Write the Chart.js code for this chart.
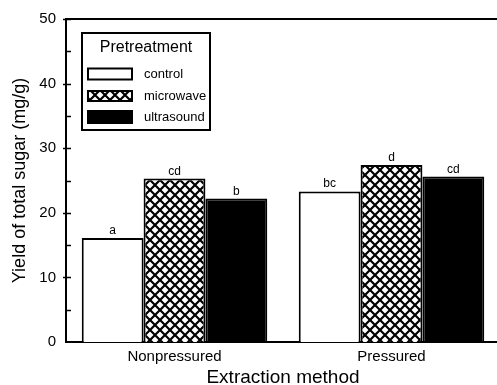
<!DOCTYPE html>
<html>
<head>
<meta charset="utf-8">
<script src="https://cdn.jsdelivr.net/npm/chart.js@4.4.0/dist/chart.umd.min.js"></script>
<style>
  html, body { margin: 0; padding: 0; background: #fff; overflow: hidden; }
  #contenedor { position: relative; width: 500px; height: 385px; }
</style>
</head>
<body>
<div id="contenedor"><canvas id="grafico-azucar"></canvas></div>
<script>
// datos
const categorias = ['Nonpressured', 'Pressured'];

const valores_control = [16.1, 23.3];
const valores_microondas = [25.3, 27.4];
const valores_ultrasonido = [22.2, 25.6];

// letras de significancia encima de cada barra
const letras_control = ['a', 'bc'];
const letras_microondas = ['cd', 'd'];
const letras_ultrasonido = ['b', 'cd'];

const nombres_series = ['control', 'microwave', 'ultrasound'];
const ticks_mayores = [0, 10, 20, 30, 40, 50];
const ticks_menores = [5, 15, 25, 35, 45];

const fuente = 'Arial, "Liberation Sans", Helvetica, sans-serif';

// patron de rombos (cuadriculado diagonal) para microwave
function crear_patron() {
    const lienzo = document.createElement('canvas');
    lienzo.width = 10;
    lienzo.height = 10;
    const c = lienzo.getContext('2d');
    c.fillStyle = '#fff';
    c.fillRect(0, 0, 10, 10);
    c.strokeStyle = '#000';
    c.lineWidth = 2.2;
    for (let d = -10; d <= 10; d += 10) {
        c.beginPath();
        c.moveTo(d, 0); c.lineTo(d + 10, 10);
        c.moveTo(d + 10, 0); c.lineTo(d, 10);
        c.stroke();
    }
    return c.createPattern(lienzo, 'repeat');
}
const patron_microondas = crear_patron();

const rellenos = ['#ffffff', patron_microondas, '#000000'];
const letras = [letras_control, letras_microondas, letras_ultrasonido];

// plugin: marco superior, marcas del eje y, letras y leyenda
const plugin_extras = {
    id: 'extras',
    afterDraw(chart) {
        const ctx = chart.ctx;
        const area = chart.chartArea;
        const escala_y = chart.scales.y;

        ctx.save();
        ctx.strokeStyle = '#000';
        ctx.lineWidth = 2;

        // linea superior del marco
        ctx.beginPath();
        ctx.moveTo(area.left - 1, area.top);
        ctx.lineTo(area.right + 2, area.top);
        ctx.stroke();

        // marcas mayores y menores del eje y
        ctx.lineWidth = 1.5;
        ticks_mayores.forEach(v => {
            if (v === 0) return;
            const y = Math.round(escala_y.getPixelForValue(v)) + 0.5;
            ctx.beginPath();
            ctx.moveTo(area.left - 3, y);
            ctx.lineTo(area.left + 5, y);
            ctx.stroke();
        });
        ticks_menores.forEach(v => {
            const y = Math.round(escala_y.getPixelForValue(v)) + 0.5;
            ctx.beginPath();
            ctx.moveTo(area.left, y);
            ctx.lineTo(area.left + 5, y);
            ctx.stroke();
        });

        // letras de significancia
        ctx.fillStyle = '#000';
        ctx.font = '12px ' + fuente;
        ctx.textAlign = 'center';
        ctx.textBaseline = 'alphabetic';
        chart.data.datasets.forEach((ds, i) => {
            const meta = chart.getDatasetMeta(i);
            meta.data.forEach((barra, j) => {
                ctx.fillText(letras[i][j], barra.x, barra.y - 4);
            });
        });

        // leyenda con titulo dentro de un recuadro
        const lx = 82, ly = 33, lw = 128, lh = 97;
        ctx.lineWidth = 2;
        ctx.fillStyle = '#fff';
        ctx.fillRect(lx, ly, lw, lh);
        ctx.strokeRect(lx, ly, lw, lh);

        ctx.fillStyle = '#000';
        ctx.font = '16px ' + fuente;
        ctx.textAlign = 'center';
        ctx.textBaseline = 'middle';
        ctx.fillText('Pretreatment', lx + lw / 2, 48);

        const filas_y = [74, 96, 117];
        const altos = [11, 10, 12];
        chart.data.datasets.forEach((ds, i) => {
            const cy = filas_y[i];
            const h = altos[i];
            ctx.fillStyle = ds.backgroundColor;
            ctx.fillRect(88, cy - h / 2, 44, h);
            ctx.lineWidth = 2;
            ctx.strokeStyle = '#000';
            ctx.strokeRect(88, cy - h / 2, 44, h);
            ctx.fillStyle = '#000';
            ctx.font = '13px ' + fuente;
            ctx.textAlign = 'left';
            ctx.fillText(ds.label, 144, cy);
        });
        ctx.restore();
    }
};

const contexto = document.getElementById('grafico-azucar').getContext('2d');

new Chart(contexto, {
    type: 'bar',
    data: {
        labels: categorias,
        datasets: [valores_control, valores_microondas, valores_ultrasonido].map((valores, i) => ({
            label: nombres_series[i],
            data: valores,
            backgroundColor: rellenos[i],
            borderColor: '#000',
            borderWidth: 2,
            borderSkipped: 'bottom',
            categoryPercentage: 0.855,
            barPercentage: 1.0
        }))
    },
    options: {
        responsive: true,
        maintainAspectRatio: false,
        animation: false,
        layout: { padding: { top: 19, right: 0, left: 0, bottom: 0 } },
        plugins: {
            legend: { display: false },
            tooltip: { enabled: false }
        },
        scales: {
            x: {
                grid: { display: false, drawTicks: false },
                border: { display: true, color: '#000', width: 2 },
                ticks: { color: '#000', font: { family: fuente, size: 15 }, padding: 6 },
                title: {
                    display: true,
                    text: 'Extraction method',
                    color: '#000',
                    font: { family: fuente, size: 19, lineHeight: 0.8 },
                    padding: 0
                },
                afterFit(escala) { escala.height = 43; }
            },
            y: {
                min: 0,
                max: 50,
                grid: { display: false, drawTicks: false },
                border: { display: true, color: '#000', width: 2 },
                ticks: {
                    color: '#000',
                    font: { family: fuente, size: 15 },
                    padding: 10,
                    stepSize: 10
                },
                title: {
                    display: true,
                    text: 'Yield of total sugar (mg/g)',
                    color: '#000',
                    font: { family: fuente, size: 18 },
                    padding: { top: 9, bottom: 0 }
                },
                afterFit(escala) { escala.width = 66; }
            }
        }
    },
    plugins: [plugin_extras]
});
</script>
</body>
</html>
